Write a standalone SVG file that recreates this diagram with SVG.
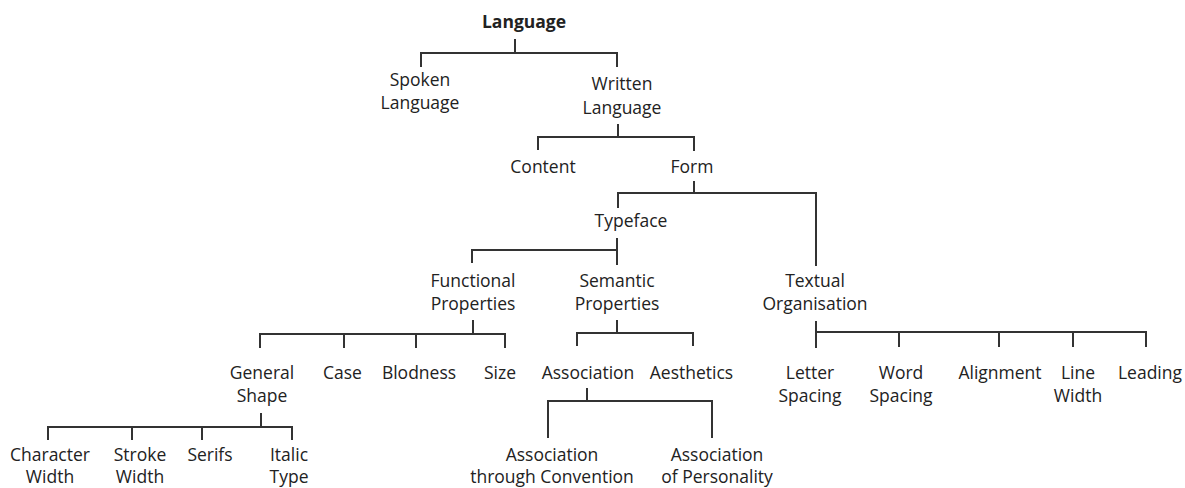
<svg xmlns="http://www.w3.org/2000/svg" width="1185" height="488" viewBox="0 0 1185 488">
<style>
text{font-family:"Open Sans","Noto Sans","Liberation Sans",sans-serif;font-size:17.5px;fill:#222;text-anchor:middle}
.b{font-weight:bold}
.c{fill:none;stroke:#333;stroke-width:2}
</style>
<rect width="1185" height="488" fill="#fff"/>
<g id="connectors" class="c">
<path d="M515,39V53M421,67V53H617V67"/>
<path d="M618,124V137M538,150V137H694V151"/>
<path d="M694,181V193M618,208V193H816V266"/>
<path d="M617,238V265M472,263V250H617"/>
<path d="M473,320V334M260,348V334H505V348M344,334V348M416,334V348"/>
<path d="M617,320V333M577,346V333H693V346"/>
<path d="M816,321V348M816,332H1146V347M899,332V347M999,332V347M1073,332V347"/>
<path d="M261,413V427M48,440V427H292V440M132,427V440M202,427V440"/>
<path d="M587,388V401M548,438V401H712V438"/>
</g>
<g id="language"><text class="b" x="524" y="28">Language</text></g>
<g id="spoken"><text x="420" y="86">Spoken</text><text x="420" y="109">Language</text></g>
<g id="written"><text x="622" y="90">Written</text><text x="622" y="114">Language</text></g>
<g id="content"><text x="543" y="173">Content</text></g>
<g id="form"><text x="692" y="173">Form</text></g>
<g id="typeface"><text x="631" y="227">Typeface</text></g>
<g id="functional"><text x="473" y="287">Functional</text><text x="473" y="310">Properties</text></g>
<g id="semantic"><text x="617" y="287">Semantic</text><text x="617" y="310">Properties</text></g>
<g id="textual"><text x="815" y="287">Textual</text><text x="815" y="310">Organisation</text></g>
<g id="general-shape"><text x="262" y="379">General</text><text x="262" y="402">Shape</text></g>
<g id="case"><text x="342.5" y="379">Case</text></g>
<g id="blodness"><text x="419" y="379">Blodness</text></g>
<g id="size"><text x="500" y="379">Size</text></g>
<g id="association"><text x="588" y="379">Association</text></g>
<g id="aesthetics"><text x="691.5" y="379">Aesthetics</text></g>
<g id="letter-spacing"><text x="810" y="379">Letter</text><text x="810" y="402">Spacing</text></g>
<g id="word-spacing"><text x="901" y="379">Word</text><text x="901" y="402">Spacing</text></g>
<g id="alignment"><text x="1000" y="379">Alignment</text></g>
<g id="line-width"><text x="1078" y="379">Line</text><text x="1078" y="402">Width</text></g>
<g id="leading"><text x="1150" y="379">Leading</text></g>
<g id="character-width"><text x="50" y="461">Character</text><text x="50" y="483">Width</text></g>
<g id="stroke-width"><text x="140" y="461">Stroke</text><text x="140" y="483">Width</text></g>
<g id="serifs"><text x="210" y="461">Serifs</text></g>
<g id="italic-type"><text x="289" y="461">Italic</text><text x="289" y="483">Type</text></g>
<g id="assoc-convention"><text x="552" y="461">Association</text><text x="552" y="483">through Convention</text></g>
<g id="assoc-personality"><text x="717" y="461">Association</text><text x="717" y="483">of Personality</text></g>
</svg>
